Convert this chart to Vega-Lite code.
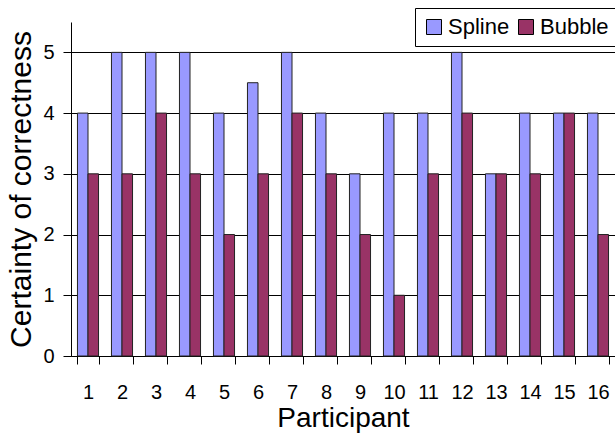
{
  "$schema": "https://vega.github.io/schema/vega-lite/v6.json",
  "autosize": "none",
  "width": 544,
  "height": 334,
  "padding": {"left": 71, "top": 22, "right": 0, "bottom": 79},
  "background": "white",
  "config": {
    "font": "Arial, Liberation Sans, sans-serif",
    "view": {"stroke": null},
    "axis": {"domainColor": "#000", "tickColor": "#000", "gridColor": "#000", "labelColor": "#000", "titleColor": "#000", "labelFont": "Arial, Liberation Sans, sans-serif", "titleFont": "Arial, Liberation Sans, sans-serif", "titleFontWeight": "normal"},
    "legend": {"labelFont": "Arial, Liberation Sans, sans-serif"}
  },
  "data": {
    "values": [
      {"participant": 1, "method": "Spline", "certainty": 4},
      {"participant": 1, "method": "Bubble", "certainty": 3},
      {"participant": 2, "method": "Spline", "certainty": 5},
      {"participant": 2, "method": "Bubble", "certainty": 3},
      {"participant": 3, "method": "Spline", "certainty": 5},
      {"participant": 3, "method": "Bubble", "certainty": 4},
      {"participant": 4, "method": "Spline", "certainty": 5},
      {"participant": 4, "method": "Bubble", "certainty": 3},
      {"participant": 5, "method": "Spline", "certainty": 4},
      {"participant": 5, "method": "Bubble", "certainty": 2},
      {"participant": 6, "method": "Spline", "certainty": 4.5},
      {"participant": 6, "method": "Bubble", "certainty": 3},
      {"participant": 7, "method": "Spline", "certainty": 5},
      {"participant": 7, "method": "Bubble", "certainty": 4},
      {"participant": 8, "method": "Spline", "certainty": 4},
      {"participant": 8, "method": "Bubble", "certainty": 3},
      {"participant": 9, "method": "Spline", "certainty": 3},
      {"participant": 9, "method": "Bubble", "certainty": 2},
      {"participant": 10, "method": "Spline", "certainty": 4},
      {"participant": 10, "method": "Bubble", "certainty": 1},
      {"participant": 11, "method": "Spline", "certainty": 4},
      {"participant": 11, "method": "Bubble", "certainty": 3},
      {"participant": 12, "method": "Spline", "certainty": 5},
      {"participant": 12, "method": "Bubble", "certainty": 4},
      {"participant": 13, "method": "Spline", "certainty": 3},
      {"participant": 13, "method": "Bubble", "certainty": 3},
      {"participant": 14, "method": "Spline", "certainty": 4},
      {"participant": 14, "method": "Bubble", "certainty": 3},
      {"participant": 15, "method": "Spline", "certainty": 4},
      {"participant": 15, "method": "Bubble", "certainty": 4},
      {"participant": 16, "method": "Spline", "certainty": 4},
      {"participant": 16, "method": "Bubble", "certainty": 2}
    ]
  },
  "mark": {"type": "bar", "stroke": "#222", "strokeWidth": 1},
  "encoding": {
    "x": {
      "field": "participant",
      "type": "ordinal",
      "title": "Participant",
      "scale": {"paddingInner": 0.38, "paddingOuter": 0.19},
      "axis": {
        "labelAngle": 0,
        "labelFontSize": 20,
        "titleFontSize": 28,
        "tickBand": "extent",
        "tickSize": 8,
        "labelPadding": 18,
        "titlePadding": 2,
        "grid": false
      }
    },
    "xOffset": {"field": "method", "sort": ["Spline", "Bubble"]},
    "y": {
      "field": "certainty",
      "type": "quantitative",
      "title": "Certainty of correctness",
      "scale": {"domain": [0, 5.5], "nice": false},
      "axis": {
        "values": [0, 1, 2, 3, 4, 5],
        "labelFontSize": 20,
        "titleFontSize": 30,
        "tickSize": 8,
        "labelPadding": 9,
        "titlePadding": 6,
        "grid": true,
        "gridWidth": 1
      }
    },
    "color": {
      "field": "method",
      "type": "nominal",
      "sort": ["Spline", "Bubble"],
      "scale": {"domain": ["Spline", "Bubble"], "range": ["#9999FF", "#993366"]},
      "legend": {
        "title": null,
        "orient": "none",
        "direction": "horizontal",
        "legendX": 344,
        "legendY": -14,
        "labelFontSize": 22,
        "labelColor": "#000",
        "symbolType": "square",
        "symbolSize": 225,
        "symbolStrokeColor": "#000",
        "symbolStrokeWidth": 1,
        "labelOffset": 3,
        "columnPadding": 5,
        "padding": 8,
        "strokeColor": "#000",
        "fillColor": "white"
      }
    }
  }
}
